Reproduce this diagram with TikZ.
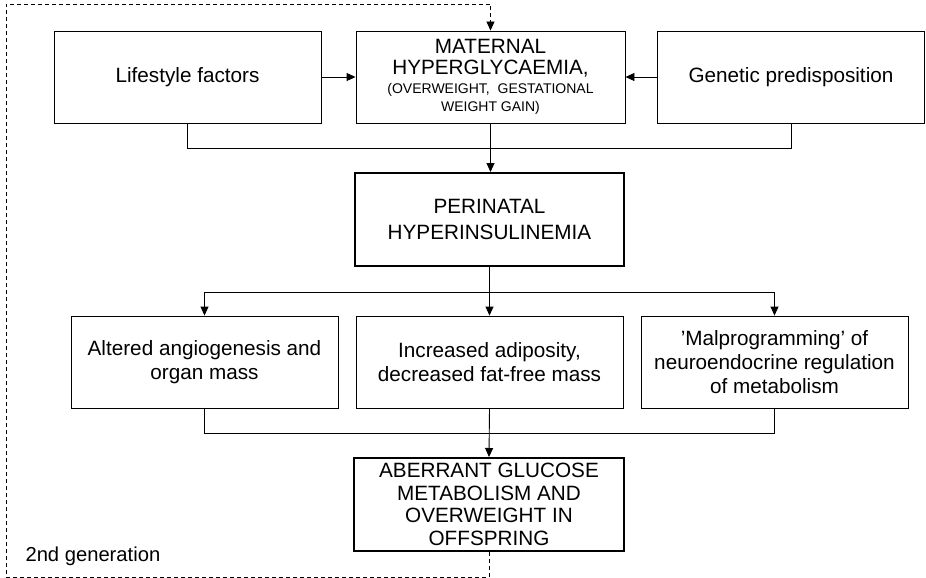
\documentclass[tikz,border=0pt]{standalone}
\usepackage{fontspec}
\setmainfont{Liberation Sans}
\usepackage{tikz}
\usetikzlibrary{arrows.meta}
\newcommand{\subsize}{\fontsize{14}{17}\selectfont}

\begin{document}
\begin{tikzpicture}[x=1pt, y=-1pt,
  box/.style={draw, line width=0.9pt, minimum width=267pt, minimum height=92pt, inner sep=2pt, align=center, font=\fontsize{20.7}{24}\selectfont},
  keybox/.style={box, line width=2pt, minimum width=269pt, minimum height=93pt},
  arr/.style={-{Triangle[length=9pt, width=8pt]}},
  link/.style={line width=0.9pt},
  frame/.style={line width=0.9pt, dash pattern=on 4pt off 3pt}]
\useasboundingbox (0,0) rectangle (926,578);

\node[box] (life) at (187.5,77) {Lifestyle factors};
\node[box, minimum width=269pt, font=\fontsize{20.7}{21}\selectfont] (mat) at (490.5,77) {MATERNAL\\HYPERGLYCAEMIA,\\[-2pt]\subsize (OVERWEIGHT,\ \ GESTATIONAL\\[-3pt]\subsize WEIGHT GAIN)};
\node[box] (gen) at (791,77) {Genetic predisposition};

\node[keybox, font=\fontsize{20.7}{25.5}\selectfont] (peri) at (489.5,219.5) {PERINATAL\\HYPERINSULINEMIA};

\node[box] (angio) at (204.5,362) {Altered angiogenesis and\\organ mass};
\node[box] (adip) at (489.5,362) {Increased adiposity,\\decreased fat-free mass};
\node[box] (malp) at (774.5,362) {'Malprogramming' of\\neuroendocrine regulation\\of metabolism};

\node[keybox, minimum width=270pt, font=\fontsize{20.7}{22.5}\selectfont] (aber) at (489,504.5) {ABERRANT GLUCOSE\\METABOLISM AND\\OVERWEIGHT IN\\OFFSPRING};
\node[anchor=base west, font=\fontsize{20.2}{24}\selectfont] (gen2) at (22,561) {2nd generation};

\draw[link, arr] (life) -- (mat);
\draw[link, arr] (gen) -- (mat);
\draw[link] (life.south) -- ++(0,25) -| (gen.south);
\draw[link, arr] (mat.south) -- (mat.south |- peri.north);

\draw[line width=1.6pt] (peri.south) -- ++(0,25) coordinate (split);
\draw[link, arr] (split) -| (angio.north);
\draw[link, arr] (split) -- (adip.north);
\draw[link, arr] (split) -| (malp.north);

\draw[link] (angio.south) -- ++(0,25) -| (malp.south);
\draw[link, arr] (adip.south) -- (aber.north);

\coordinate (frbl) at (6,577);
\coordinate (frtl) at (6,4);
\draw[frame, arr] (aber.south) |- (frbl) -- (frtl) -| (mat.north);
\end{tikzpicture}
\end{document}
